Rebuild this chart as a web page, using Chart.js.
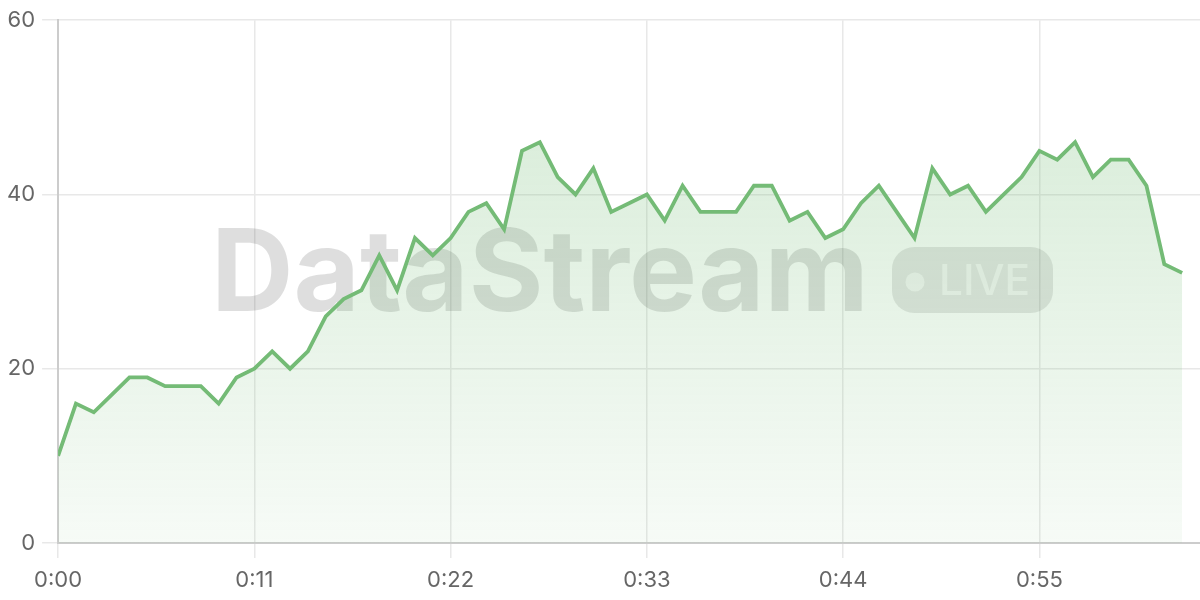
<!DOCTYPE html>
<html>
<head>
<meta charset="utf-8">
<script src="https://cdn.jsdelivr.net/npm/chart.js@4/dist/chart.umd.min.js"></script>
<style>
html,body{margin:0;padding:0;background:#fff;}
#wrap{width:1200px;height:600px;position:relative;}
</style>
</head>
<body>
<div id="wrap"><canvas id="c" width="1200" height="600"></canvas></div>
<script>
const seconds = [0,1,2,3,4,5,6,7,8,9,10,11,12,13,14,15,16,17,18,19,20,21,22,23,24,25,26,27,28,29,30,31,32,33,34,35,36,37,38,39,40,41,42,43,44,45,46,47,48,49,50,51,52,53,54,55,56,57,58,59,60,61,62,63];
const values = [10,16,15,17,19,19,18,18,18,16,19,20,22,20,22,26,28,29,33,29,35,33,35,38,39,36,45,46,42,40,43,38,39,40,37,41,38,38,38,41,41,37,38,35,36,39,41,38,35,43,40,41,38,40,42,45,44,46,42,44,44,41,32,31];
const yTicks = [0,20,40,60];
const xTickStep = 11;
const watermarkText = "DataStream";
const badgeText = "LIVE";

function fmt(s){ const m=Math.floor(s/60), ss=s%60; return m+":"+String(ss).padStart(2,"0"); }

const watermark = {
  id:'watermark',
  beforeDatasetsDraw(chart){
    const ctx = chart.ctx;
    ctx.save();
    let size = 110;
    ctx.font = "bold "+size+"px Inter, 'Open Sans', sans-serif";
    let w = ctx.measureText(watermarkText).width;
    size = size * 658 / w;
    ctx.font = "bold "+size+"px Inter, 'Open Sans', sans-serif";
    ctx.fillStyle = "rgba(0,0,0,0.13)";
    ctx.textBaseline = "alphabetic";
    ctx.textAlign = "left";
    ctx.fillText(watermarkText, 211, 311);
    ctx.fillStyle = "rgba(0,0,0,0.10)";
    ctx.beginPath();
    ctx.roundRect(892, 247, 161, 66, 22);
    ctx.fill();
    ctx.fillStyle = "rgba(255,255,255,0.6)";
    ctx.beginPath();
    ctx.arc(915, 282, 9.5, 0, Math.PI*2);
    ctx.fill();
    let bs = 40;
    ctx.font = "500 "+bs+"px Inter, 'Open Sans', sans-serif";
    let bw = ctx.measureText(badgeText).width;
    bs = bs * 91 / bw;
    ctx.font = "500 "+bs+"px Inter, 'Open Sans', sans-serif";
    ctx.fillText(badgeText, 939, 295);
    ctx.restore();
  }
};

const ctx = document.getElementById('c').getContext('2d');
new Chart(ctx, {
  type:'line',
  data:{
    datasets:[{
      data: seconds.map((s,i)=>({x:s,y:values[i]})),
      borderColor:'#74bb76',
      borderWidth:3.8,
      pointRadius:0,
      tension:0,
      fill:'origin',
      backgroundColor(context){
        const ch = context.chart;
        const a = ch.chartArea;
        if(!a) return 'rgba(114,187,116,0.15)';
        const g = ch.ctx.createLinearGradient(0,a.top,0,a.bottom);
        g.addColorStop(0,'rgba(110,185,112,0.30)');
        g.addColorStop(1,'rgba(110,185,112,0.06)');
        return g;
      }
    }]
  },
  options:{
    responsive:false,
    animation:false,
    layout:{padding:{top:6,left:0,right:0,bottom:-2}},
    plugins:{legend:{display:false},tooltip:{enabled:false}},
    scales:{
      x:{
        type:'linear',
        min:0,max:64,
        grid:{color:'#e8e8e8',lineWidth:1.5,tickLength:15},
        border:{color:'#cccccc',width:2},
        ticks:{stepSize:xTickStep,includeBounds:false,padding:11,color:'#666',
          font:{family:'Inter',size:22,lineHeight:1},
          callback:(v)=>fmt(v), maxRotation:0, autoSkip:false}
      },
      y:{
        min:0,max:60,
        afterBuildTicks(scale){ scale.ticks = yTicks.map(v=>({value:v})); },
        grid:{color:'#e8e8e8',lineWidth:1.5,tickLength:16},
        border:{color:'#cccccc',width:2},
        ticks:{padding:7,color:'#666',font:{family:'Inter',size:22}}
      }
    }
  },
  plugins:[watermark]
});
</script>
</body>
</html>
